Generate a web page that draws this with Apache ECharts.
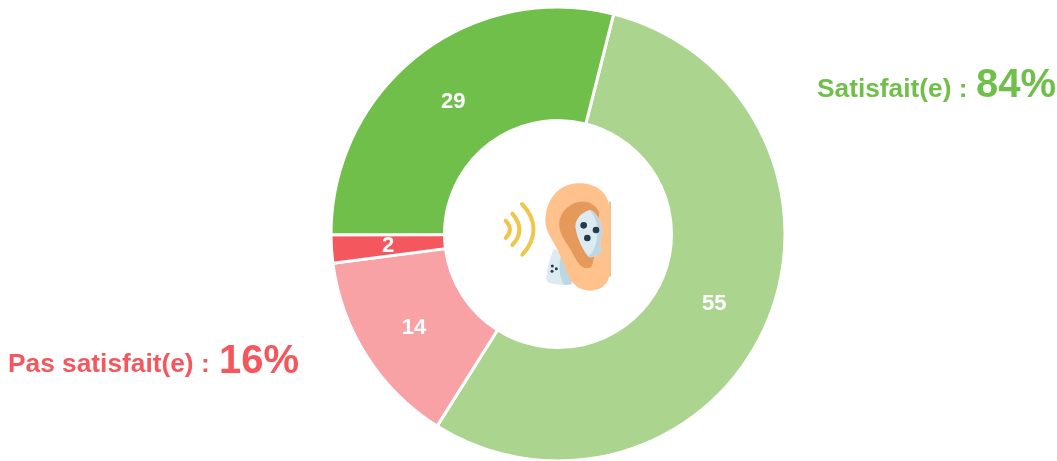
<!DOCTYPE html>
<html>
<head>
<meta charset="utf-8">
<style>
  html, body { margin: 0; padding: 0; background: #fff; }
  #chart { width: 1057px; height: 461px; }
</style>
<script src="https://cdn.jsdelivr.net/npm/echarts@6/dist/echarts.min.js"></script>
</head>
<body>
<div id="chart"></div>
<script>
var categories = ['Plutôt satisfait(e)', 'Plutôt pas satisfait(e)', 'Pas du tout satisfait(e)', 'Très satisfait(e)']
var values = [55, 14, 2, 29]
var sliceColors = ['#abd58f', '#f8a2a6', '#f4575d', '#6fbf4a']
var labelOffsets = [[-3, 2], [2, 1], [3, 0], [2, 4]]

// oreille au centre du donut
var earSvg = '<svg xmlns="http://www.w3.org/2000/svg" width="135" height="130" viewBox="0 0 405 390">' +
  '<rect x="356" y="95" width="7" height="225" fill="#e5c49a"/>' +
  '<path d="M192 235 C180 265 170 295 169 325 C170 342 195 347 240 343 L250 280 Z" fill="#dcebf2"/>' +
  '<path d="M212 262 C205 290 208 322 222 345 L245 343 L250 280 Z" fill="#bcd6e4"/>' +
  '<path d="M262 40 C310 38 352 60 358 110 L358 310 C358 345 330 362 300 362 C270 362 245 345 232 310 C222 280 210 255 195 225 C175 190 160 170 168 130 C178 75 215 42 262 40 Z" fill="#ffc28d"/>' +
  '<path d="M272 95 C300 93 320 108 328 128 L312 262 L306 288 C296 300 276 296 262 275 C252 258 244 240 228 218 C212 196 203 170 210 145 C218 118 245 97 272 95 Z" fill="#e59a5b"/>' +
  '<path d="M300 120 C318 125 332 150 338 185 C334 205 326 220 336 240 C325 258 308 265 295 260 C280 240 262 210 256 170 C256 145 278 125 300 120 Z" fill="#dcebf2"/>' +
  '<path d="M300 120 C318 125 332 150 338 185 C334 205 326 220 336 240 C325 258 308 265 295 260 C318 240 322 210 322 180 C322 155 312 135 300 120 Z" fill="#bcd6e4"/>' +
  '<circle cx="281" cy="166" r="10" fill="#263a4a"/><circle cx="318" cy="180" r="10" fill="#263a4a"/><circle cx="292" cy="204" r="10" fill="#263a4a"/>' +
  '<circle cx="187" cy="288" r="4.5" fill="#263a4a"/><circle cx="199" cy="296" r="4.5" fill="#263a4a"/><circle cx="186" cy="304" r="4.5" fill="#263a4a"/>' +
  '<g fill="none" stroke="#efc64a" stroke-width="12" stroke-linecap="round">' +
  '<path d="M47 152 C64 170 64 188 47 204"/>' +
  '<path d="M67 131 C96 165 96 195 67 225"/>' +
  '<path d="M96 102 C142 150 142 205 97 254"/></g></svg>'

function sideText(text, x, y, size, color) {
  return {
    type: 'text',
    x: x,
    y: y,
    style: {
      text: text,
      fill: color,
      font: 'bold ' + size + 'px "Liberation Sans"',
      verticalAlign: 'bottom'
    }
  }
}

var myChart = echarts.init(document.getElementById('chart'))
myChart.setOption({
  animation: false,
  series: [
    {
      type: 'pie',
      center: [558, 234],
      radius: [113.5, 227],
      startAngle: 75.8,
      data: categories.map(function (name, i) {
        return {
          name: name,
          value: values[i],
          itemStyle: { color: sliceColors[i] },
          label: { offset: labelOffsets[i] }
        }
      }),
      itemStyle: { borderColor: '#fff', borderWidth: 3 },
      label: {
        position: 'inside',
        formatter: '{c}',
        color: '#fff',
        fontFamily: 'Liberation Sans',
        fontWeight: 'bold',
        fontSize: 22
      },
      labelLine: { show: false },
      emphasis: { disabled: true }
    }
  ],
  graphic: [
    {
      type: 'image',
      x: 490,
      y: 170,
      style: { image: 'data:image/svg+xml;charset=utf-8,' + encodeURIComponent(earSvg), width: 135, height: 130 }
    },
    sideText('Satisfait(e) :', 817, 102.5, 26.3, '#6fbf4a'),
    sideText('84%', 976, 106, 40, '#6fbf4a'),
    sideText('Pas satisfait(e) :', 8, 378, 26.3, '#f4575d'),
    sideText('16%', 219, 381.5, 40, '#f4575d')
  ]
})
</script>
</body>
</html>
